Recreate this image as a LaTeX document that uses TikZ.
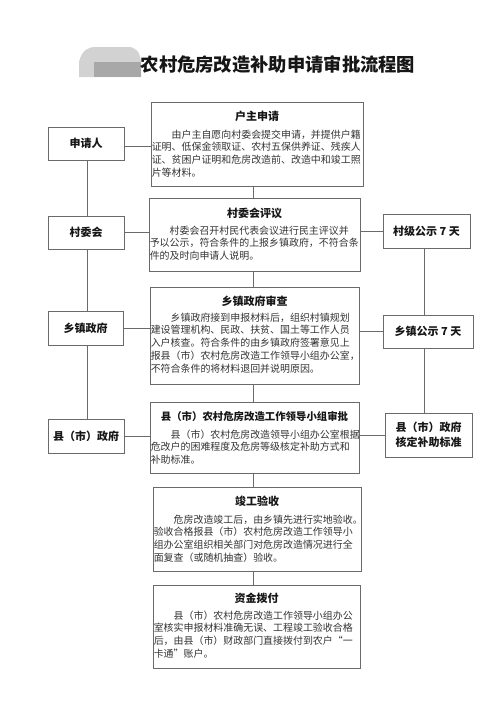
\documentclass[tikz,border=0pt]{standalone}
\usepackage{fontspec}
\setmainfont{Noto Sans CJK SC}
\definecolor{boxgray}{HTML}{6A6A6A}
\definecolor{linegray}{HTML}{6A6A6A}
\definecolor{textblack}{HTML}{161616}
\definecolor{bodygray}{HTML}{333333}
\definecolor{blobA}{HTML}{D2D2D2}
\definecolor{blobB}{HTML}{A8A8A8}
\tikzset{
 mainbox/.style={draw=boxgray, line width=0.9pt, fill=white, inner sep=0pt},
 sidebox/.style={draw=boxgray, line width=0.9pt, fill=white, inner sep=0pt, font=\fontsize{11}{15}\selectfont\bfseries, align=center, text=textblack},
 boxtitle/.style={font=\fontsize{11}{13}\selectfont\bfseries, inner sep=0pt, text=textblack},
 boxbody/.style={font=\fontsize{9.95}{12.7}\selectfont, align=left, inner sep=0pt, anchor=north west, text=bodygray, xshift=1pt, yshift=-28pt},
 link/.style={draw=linegray, line width=0.9pt},
}
\begin{document}
\begin{tikzpicture}[x=1pt,y=-1pt]
\useasboundingbox (0,0) rectangle (500,707);
\fill[white] (0,0) rectangle (500,707);

% title blob
\fill[blobA] (79,77) -- (79,62) .. controls (82,50) and (88,47) .. (96,47) -- (128,47) .. controls (136,47) and (140,52) .. (141,62) -- (141,77) -- cycle;
\fill[blobB] (94,62) rectangle (141,77);
\node[font=\fontsize{18.3}{20}\selectfont\bfseries, text=textblack, inner sep=0pt] (title) at (278,65) {农村危房改造补助申请审批流程图};

% spines
\coordinate (spine) at (253,0);
\coordinate (lspine) at (87,0);
\coordinate (rspine) at (424,0);

% main boxes
\node[mainbox, minimum width=212, minimum height=84] (b1) at (257,144) {};
\node[mainbox, minimum width=211, minimum height=73] (b2) at (254.5,234.5) {};
\node[mainbox, minimum width=209, minimum height=97] (b3) at (254.5,335.5) {};
\node[mainbox, minimum width=209, minimum height=71] (b4) at (254.5,437.5) {};
\node[mainbox, minimum width=208, minimum height=84] (b5) at (257,529) {};
\node[mainbox, minimum width=207, minimum height=83] (b6) at (256.5,626.5) {};

% titles
\node[boxtitle, yshift=-15pt] (t1) at (b1.north) {户主申请};
\node[boxtitle, yshift=-16pt] (t2) at (b2.north) {村委会评议};
\node[boxtitle, yshift=-15pt] (t3) at (b3.north) {乡镇政府审查};
\node[boxtitle, yshift=-15pt, font=\fontsize{10.4}{13}\selectfont\bfseries] (t4) at (b4.north) {县（市）农村危房改造工作领导小组审批};
\node[boxtitle, yshift=-15pt] (t5) at (b5.north) {竣工验收};
\node[boxtitle, yshift=-14pt] (t6) at (b6.north) {资金拨付};

% bodies
\node[boxbody] (x1) at (b1.north west) {\hspace*{2em}由户主自愿向村委会提交申请，并提供户籍\\证明、低保金领取证、农村五保供养证、残疾人\\证、贫困户证明和危房改造前、改造中和竣工照\\片等材料。};
\node[boxbody] (x2) at (b2.north west) {\hspace*{2em}村委会召开村民代表会议进行民主评议并\\予以公示，符合条件的上报乡镇政府，不符合条\\件的及时向申请人说明。};
\node[boxbody, yshift=2pt] (x3) at (b3.north west) {\hspace*{2em}乡镇政府接到申报材料后，组织村镇规划\\建设管理机构、民政、扶贫、国土等工作人员\\入户核查。符合条件的由乡镇政府签署意见上\\报县（市）农村危房改造工作领导小组办公室，\\不符合条件的将材料退回并说明原因。};
\node[boxbody] (x4) at (b4.north west) {\hspace*{2em}县（市）农村危房改造领导小组办公室根据\\危改户的困难程度及危房等级核定补助方式和\\补助标准。};
\node[boxbody] (x5) at (b5.north west) {\hspace*{2em}危房改造竣工后，由乡镇先进行实地验收。\\验收合格报县（市）农村危房改造工作领导小\\组办公室组织相关部门对危房改造情况进行全\\面复查（或随机抽查）验收。};
\node[boxbody, yshift=2pt] (x6) at (b6.north west) {\hspace*{2em}县（市）农村危房改造工作领导小组办公\\室核实申报材料准确无误、工程竣工验收合格\\后，由县（市）财政部门直接拨付到农户“一\\卡通”账户。};

% left boxes
\node[sidebox, minimum width=76, minimum height=33] (s1) at (86,143.5) {申请人};
\node[sidebox, minimum width=76, minimum height=33] (s2) at (86,232.5) {村委会};
\node[sidebox, minimum width=75, minimum height=34] (s3) at (85.5,328) {乡镇政府};
\node[sidebox, minimum width=76, minimum height=34] (s4) at (86,436) {县（市）政府};

% right boxes
\node[sidebox, minimum width=87, minimum height=34] (r1) at (426.5,231) {村级公示 7 天};
\node[sidebox, minimum width=90, minimum height=33] (r2) at (428,331.5) {乡镇公示 7 天};
\node[sidebox, minimum width=87, minimum height=44] (r3) at (428.5,435) {县（市）政府\\核定补助标准};

% center spine
\draw[link] (b1.south -| spine) -- (b2.north -| spine);
\draw[link] (b2.south -| spine) -- (b3.north -| spine);
\draw[link] (b3.south -| spine) -- (b4.north -| spine);
\draw[link] (b4.south -| spine) -- (b5.north -| spine);
\draw[link] (b5.south -| spine) -- (b6.north -| spine);

% left spine
\draw[link] (s1.south -| lspine) -- (s2.north -| lspine);
\draw[link] (s2.south -| lspine) -- (s3.north -| lspine);
\draw[link] (s3.south -| lspine) -- (s4.north -| lspine);

% right spine
\draw[link] (r1.south -| rspine) -- (r2.north -| rspine);
\draw[link] (r2.south -| rspine) -- (r3.north -| rspine);

% horizontal links
\draw[link] ([yshift=-3pt]s1.east) -- ([yshift=-3pt]s1.east -| b1.west);
\draw[link] (s2.east) -- (s2.east -| b2.west);
\draw[link] (s3.east) -- (s3.east -| b3.west);
\draw[link] (s4.east) -- (s4.east -| b4.west);
\draw[link] (b2.east |- r1.west) -- (r1.west);
\draw[link] (b3.east |- r2.west) -- (r2.west);
\draw[link] (b4.east |- r3.west) -- (r3.west);
\end{tikzpicture}
\end{document}
